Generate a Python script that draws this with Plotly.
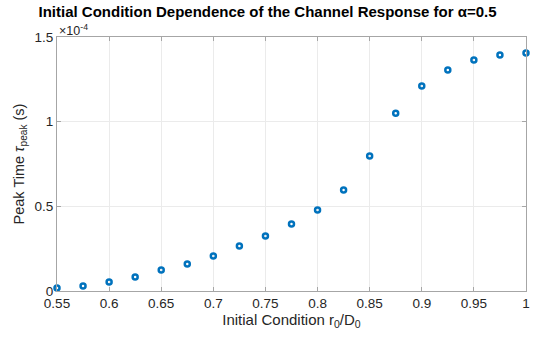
import plotly.graph_objects as go

r0_D0 = [0.55, 0.575, 0.6, 0.625, 0.65, 0.675, 0.7, 0.725, 0.75, 0.775,
         0.8, 0.825, 0.85, 0.875, 0.9, 0.925, 0.95, 0.975, 1.0]
tau_peak = [0.018e-4, 0.03e-4, 0.053e-4, 0.083e-4, 0.124e-4, 0.16e-4, 0.207e-4,
            0.266e-4, 0.325e-4, 0.396e-4, 0.478e-4, 0.597e-4, 0.797e-4, 1.05e-4,
            1.21e-4, 1.305e-4, 1.364e-4, 1.394e-4, 1.406e-4]

x_ticks = [0.55, 0.6, 0.65, 0.7, 0.75, 0.8, 0.85, 0.9, 0.95, 1]
x_ticktext = ["0.55", "0.6", "0.65", "0.7", "0.75", "0.8", "0.85", "0.9", "0.95", "1"]
y_ticks = [0, 0.5e-4, 1e-4, 1.5e-4]
y_ticktext = ["0", "0.5", "1", "1.5"]

FONT = "Liberation Sans, Arial, Helvetica, sans-serif"
BLUE = "#0072BD"

fig = go.Figure()
fig.add_trace(go.Scatter(
    x=r0_D0, y=tau_peak, mode="markers", cliponaxis=False,
    marker=dict(symbol="circle-open", size=5, color=BLUE,
                line=dict(color=BLUE, width=2.5)),
    showlegend=False,
))

axis_common = dict(
    showline=True, linecolor="#a6a6a6", linewidth=1, mirror="ticks",
    ticks="inside", ticklen=4, tickcolor="#a6a6a6",
    showgrid=True, gridcolor="#ebebeb", gridwidth=1,
    zeroline=False, automargin=False,
    tickfont=dict(size=13.5, color="#262626", family=FONT),
)

fig.update_layout(
    width=535, height=338,
    margin=dict(l=57, r=9, t=37, b=47),
    paper_bgcolor="white", plot_bgcolor="white",
    font=dict(family=FONT, color="#262626"),
    title=dict(text="<b>Initial Condition Dependence of the Channel Response for α=0.5</b>",
               x=0.5, xanchor="center", y=0.965, yanchor="middle",
               font=dict(size=15, color="black", family=FONT)),
    xaxis=dict(range=[0.55, 1.00001], tickvals=x_ticks, ticktext=x_ticktext,
               title=dict(text="Initial Condition r<sub>0</sub>/D<sub>0</sub>",
                          font=dict(size=15, color="#262626"), standoff=2),
               **axis_common),
    yaxis=dict(range=[0, 1.50001e-4], tickvals=y_ticks, ticktext=y_ticktext,
               title=dict(text="Peak Time <i>τ</i><sub>peak</sub> (s)",
                          font=dict(size=14.5, color="#262626"), standoff=6),
               **axis_common),
    annotations=[dict(text="×10<sup>-4</sup>", xref="paper", yref="paper",
                      x=0.0, y=1.0, xanchor="left", yanchor="bottom",
                      showarrow=False, font=dict(size=12.5, color="#262626"),
                      yshift=-3)],
)

fig.write_html("out.html",
               config={"displayModeBar": False},
               post_script="document.body.style.margin='0';document.body.style.padding='0';")
